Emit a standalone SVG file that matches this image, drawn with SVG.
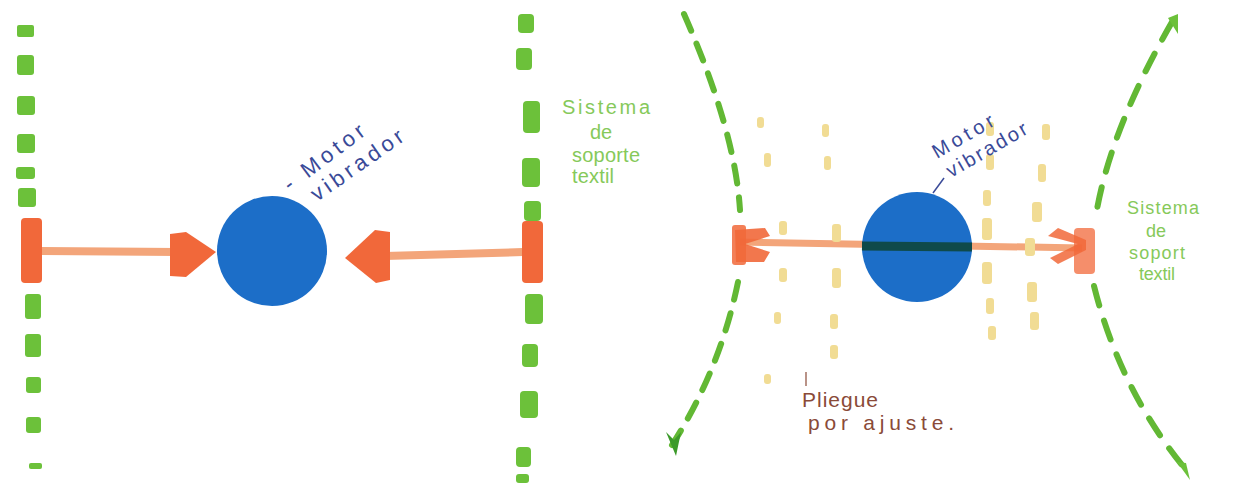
<svg xmlns="http://www.w3.org/2000/svg" width="1243" height="490" viewBox="0 0 1243 490">
<style>
.g{fill:#6cc13a}
.gl{fill:none;stroke:#62b834;stroke-width:6;stroke-linecap:round}
.y{fill:#f1dc94}
.o{fill:#f1683a}
.sh{stroke:#f3a57a;stroke-width:8;fill:none}
.blue{fill:#1c6ec8}
.tb{font-family:"Liberation Sans",sans-serif;font-size:22px;fill:#3a4a98}
.tg{font-family:"Liberation Sans",sans-serif;font-size:20px;fill:#86c95a}
.tg2{font-family:"Liberation Sans",sans-serif;font-size:18px;fill:#86c95a}
.tr{font-family:"Liberation Sans",sans-serif;font-size:21px;fill:#8a4a38}
</style>
<rect width="1243" height="490" fill="#ffffff"/>

<!-- LEFT PANEL -->
<g id="left-support-left">
<rect class="g" x="17" y="25" width="17" height="12" rx="2"/>
<rect class="g" x="17" y="55" width="17" height="20" rx="3"/>
<rect class="g" x="17" y="96" width="18" height="19" rx="3"/>
<rect class="g" x="17" y="134" width="18" height="19" rx="3"/>
<rect class="g" x="16" y="167" width="19" height="12" rx="3"/>
<rect class="g" x="18" y="188" width="18" height="19" rx="3"/>
<rect class="g" x="25" y="294" width="16" height="25" rx="3"/>
<rect class="g" x="25" y="334" width="16" height="23" rx="3"/>
<rect class="g" x="26" y="377" width="15" height="16" rx="3"/>
<rect class="g" x="26" y="417" width="15" height="16" rx="3"/>
<rect class="g" x="29" y="463" width="13" height="6" rx="2"/>
</g>
<g id="left-support-right">
<rect class="g" x="518" y="14" width="16" height="19" rx="4"/>
<rect class="g" x="516" y="48" width="16" height="22" rx="4"/>
<rect class="g" x="523" y="101" width="17" height="32" rx="4"/>
<rect class="g" x="522" y="158" width="18" height="29" rx="4"/>
<rect class="g" x="524" y="201" width="17" height="20" rx="4"/>
<rect class="g" x="525" y="294" width="18" height="30" rx="4"/>
<rect class="g" x="522" y="344" width="16" height="23" rx="4"/>
<rect class="g" x="520" y="391" width="18" height="27" rx="4"/>
<rect class="g" x="516" y="447" width="15" height="20" rx="4"/>
<rect class="g" x="516" y="474" width="13" height="9" rx="3"/>
</g>
<g id="connectors">
<line class="sh" x1="42" y1="251" x2="178" y2="252"/>
<path class="o" d="M170 234 L186 232 L216 252 L186 277 L170 276 Z"/>
<rect class="o" x="21" y="218" width="21" height="65" rx="4"/>
<line class="sh" x1="385" y1="256" x2="523" y2="252"/>
<path class="o" d="M345 258 L375 230 L390 232 L390 280 L376 283 Z"/>
<rect class="o" x="522" y="221" width="21" height="62" rx="4"/>

<line x1="740" y1="242" x2="1082" y2="248" stroke="#f3a57a" stroke-width="7"/>
<path class="o" d="M735 230 L765 228 L770 236 L745 244 L770 252 L764 262 L736 262 Z" opacity="0.9"/>
<rect class="o" x="732" y="225" width="14" height="40" rx="3" opacity="0.85"/>
<path class="o" d="M1048 236 L1078 244 L1050 258 L1058 264 L1086 250 L1086 240 L1058 228 Z" opacity="0.85"/>
<rect class="o" x="1074" y="228" width="21" height="46" rx="4" opacity="0.75"/>
</g>
<g id="left-motor">
<circle class="blue" cx="272" cy="251" r="55"/>
</g>
<g id="left-motor-label">
<text class="tb" transform="translate(290,192) rotate(-37)" textLength="96" lengthAdjust="spacing">- Motor</text>
<text class="tb" transform="translate(317,202) rotate(-35)" textLength="108" lengthAdjust="spacing">vibrador</text>
</g>
<g id="left-label" class="tg">
<text x="562" y="114" textLength="88" lengthAdjust="spacing">Sistema</text>
<text x="590" y="139">de</text>
<text x="572" y="162" textLength="68" lengthAdjust="spacing">soporte</text>
<text x="572" y="183" textLength="42" lengthAdjust="spacing">textil</text>
</g>

<!-- RIGHT PANEL -->
<g id="right-support-left">
<path class="gl" d="M684 14 Q735 130 740 210 M738 282 Q720 370 672 445" stroke-dasharray="18 14"/>
<path fill="#3c9a2a" d="M666 432 L674 440 L681 432 L676 456 Z"/>
</g>
<g id="right-support-right">
<path class="gl" d="M1172 22 Q1110 130 1096 215 M1094 286 Q1120 390 1186 470" stroke-dasharray="20 16"/>
<path class="g" d="M1168 18 L1178 14 L1178 34 Z"/>
<path class="g" d="M1177 462 L1190 480 L1186 463 Z"/>
</g>
<g id="folds">
<rect class="y" x="757" y="117" width="7" height="11" rx="3"/>
<rect class="y" x="764" y="153" width="7" height="14" rx="3"/>
<rect class="y" x="779" y="221" width="8" height="14" rx="3"/>
<rect class="y" x="779" y="268" width="8" height="14" rx="3"/>
<rect class="y" x="774" y="312" width="7" height="12" rx="3"/>
<rect class="y" x="764" y="374" width="7" height="10" rx="3"/>
<rect class="y" x="822" y="124" width="7" height="13" rx="3"/>
<rect class="y" x="824" y="156" width="7" height="14" rx="3"/>
<rect class="y" x="832" y="224" width="9" height="18" rx="3"/>
<rect class="y" x="832" y="268" width="9" height="20" rx="3"/>
<rect class="y" x="830" y="314" width="8" height="15" rx="3"/>
<rect class="y" x="830" y="345" width="8" height="14" rx="3"/>
<rect class="y" x="986" y="122" width="8" height="14" rx="3"/>
<rect class="y" x="986" y="154" width="8" height="16" rx="3"/>
<rect class="y" x="983" y="190" width="8" height="16" rx="3"/>
<rect class="y" x="982" y="218" width="10" height="22" rx="3"/>
<rect class="y" x="982" y="262" width="10" height="22" rx="3"/>
<rect class="y" x="986" y="298" width="8" height="16" rx="3"/>
<rect class="y" x="988" y="326" width="8" height="14" rx="3"/>
<rect class="y" x="1042" y="124" width="8" height="16" rx="3"/>
<rect class="y" x="1038" y="164" width="8" height="18" rx="3"/>
<rect class="y" x="1032" y="202" width="10" height="20" rx="3"/>
<rect class="y" x="1025" y="238" width="10" height="18" rx="3"/>
<rect class="y" x="1027" y="282" width="10" height="20" rx="3"/>
<rect class="y" x="1030" y="312" width="9" height="18" rx="3"/>
</g>
<g id="right-motor">
<circle class="blue" cx="917" cy="247" r="55"/>
<line x1="862" y1="246" x2="972" y2="247" stroke="#0f4a4a" stroke-width="9"/>
</g>
<g id="right-motor-label">
<line x1="933" y1="193" x2="944" y2="178" stroke="#3a4a98" stroke-width="1.5"/>
<text class="tb" transform="translate(937,159) rotate(-30)" textLength="68" lengthAdjust="spacing" style="font-size:20px">Motor</text>
<text class="tb" transform="translate(951,178) rotate(-30)" textLength="90" lengthAdjust="spacing" style="font-size:20px">vibrador</text>
</g>
<g id="right-label" class="tg2">
<text x="1127" y="214" textLength="72" lengthAdjust="spacing">Sistema</text>
<text x="1146" y="237">de</text>
<text x="1129" y="259" textLength="56" lengthAdjust="spacing">soport</text>
<text x="1139" y="280" textLength="36" lengthAdjust="spacing">textil</text>
</g>
<g id="fold-label">
<line x1="806" y1="372" x2="806" y2="386" stroke="#8a4a38" stroke-width="1.2"/>
<text class="tr" x="802" y="407" textLength="76" lengthAdjust="spacing">Pliegue</text>
<text class="tr" x="808" y="430" textLength="146" lengthAdjust="spacing">por ajuste.</text>
</g>
</svg>
